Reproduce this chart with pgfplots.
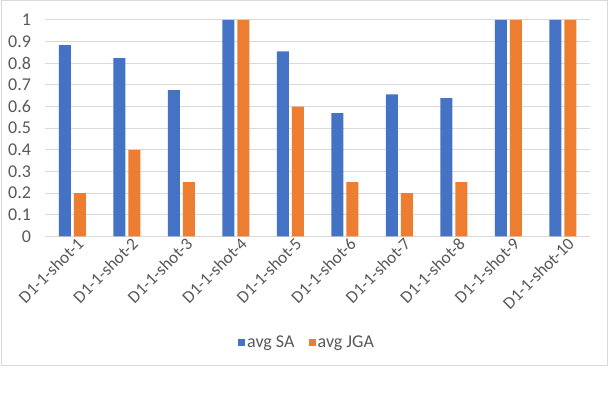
\documentclass[border=0pt]{standalone}
\usepackage{pgfplots}
\pgfplotsset{compat=1.18}
\usepackage{fontspec}
\setmainfont{Carlito}
\definecolor{saBlue}{HTML}{4472C4}
\definecolor{jgaOrange}{HTML}{ED7D31}
\definecolor{gridGray}{HTML}{D9D9D9}
\definecolor{txtGray}{HTML}{595959}
\begin{document}
\begin{tikzpicture}
  % canvas 610x398 px, 1px = 0.75pt, origin top-left
  \useasboundingbox[fill=white] (0pt,0pt) rectangle (457.5pt,-298.5pt);
  \draw[gridGray,line width=0.75pt] (0.75pt,-0.75pt) rectangle (455.25pt,-274.5pt);
  \begin{axis}[
    at={(33.75pt,-177.2pt)}, anchor=south west,
    scale only axis, width=408.75pt, height=162.2pt,
    ybar=2.25pt, bar width=9pt,
    ymin=0, ymax=1, xmin=-0.5, xmax=9.5,
    ytick={0,0.1,...,1.01},
    yticklabels={0,0.1,0.2,0.3,0.4,0.5,0.6,0.7,0.8,0.9,1},
    xtick={0,...,9},
    xticklabels={D1-1-shot-1,D1-1-shot-2,D1-1-shot-3,D1-1-shot-4,D1-1-shot-5,D1-1-shot-6,D1-1-shot-7,D1-1-shot-8,D1-1-shot-9,D1-1-shot-10},
    x tick label style={rotate=45, anchor=north east, inner sep=1pt, xshift=3pt, yshift=-1pt, font=\fontsize{13}{15}\selectfont},
    y tick label style={xshift=-7pt, font=\fontsize{13.5}{15}\selectfont},
    ticklabel style={text=txtGray},
    major tick length=0pt,
    ymajorgrids, grid style={gridGray, line width=0.75pt},
    axis line style={draw=none},
    legend style={at={(0.4807,-0.493)}, anchor=center, draw=none, fill=none,
      legend columns=2, font=\fontsize{13.5}{15}\selectfont, text=txtGray,
      nodes={inner sep=1.5pt},
      /tikz/every even column/.append style={column sep=9pt}},
    legend image code/.code={\fill (0pt,-2.7pt) rectangle (5.4pt,2.7pt);},
    clip=false,
  ]
    \draw[gridGray,line width=0.75pt] (axis cs:-0.5,0) -- (axis cs:9.5,0);
    \addplot[fill=saBlue, draw=none] coordinates {
      (0,0.884) (1,0.824) (2,0.676) (3,1) (4,0.855)
      (5,0.569) (6,0.656) (7,0.639) (8,1) (9,1) };
    \addplot[fill=jgaOrange, draw=none] coordinates {
      (0,0.2) (1,0.4) (2,0.25) (3,1) (4,0.6)
      (5,0.25) (6,0.2) (7,0.25) (8,1) (9,1) };
    \legend{avg SA, avg JGA}
  \end{axis}
\end{tikzpicture}
\end{document}
